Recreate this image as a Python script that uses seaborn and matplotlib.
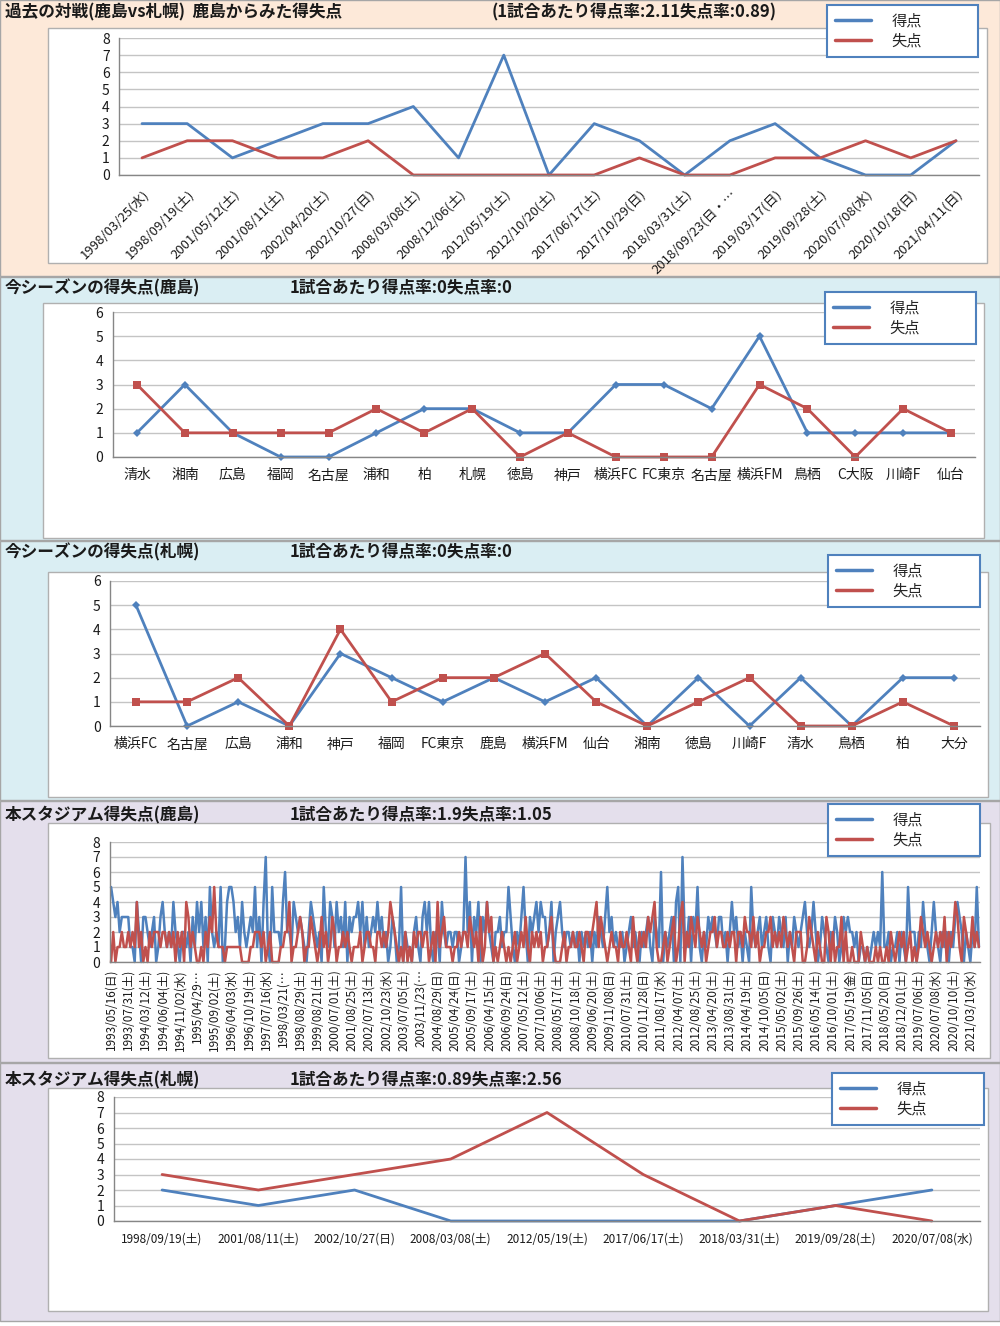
import seaborn as sns
import matplotlib.pyplot as plt
import pandas as pd
import numpy as np
from matplotlib.patches import Rectangle
from matplotlib.lines import Line2D

# ---- data ----
h2h_dates = ['1998/03/25(水)', '1998/09/19(土)', '2001/05/12(土)', '2001/08/11(土)',
             '2002/04/20(土)', '2002/10/27(日)', '2008/03/08(土)', '2008/12/06(土)',
             '2012/05/19(土)', '2012/10/20(土)', '2017/06/17(土)', '2017/10/29(日)',
             '2018/03/31(土)', '2018/09/23(日・…', '2019/03/17(日)', '2019/09/28(土)',
             '2020/07/08(水)', '2020/10/18(日)', '2021/04/11(日)']
h2h_for = [3, 3, 1, 2, 3, 3, 4, 1, 7, 0, 3, 2, 0, 2, 3, 1, 0, 0, 2]
h2h_against = [1, 2, 2, 1, 1, 2, 0, 0, 0, 0, 0, 1, 0, 0, 1, 1, 2, 1, 2]

kashima_opp = ['清水', '湘南', '広島', '福岡', '名古屋', '浦和', '柏', '札幌', '徳島',
               '神戸', '横浜FC', 'FC東京', '名古屋', '横浜FM', '鳥栖', 'C大阪', '川崎F', '仙台']
kashima_for = [1, 3, 1, 0, 0, 1, 2, 2, 1, 1, 3, 3, 2, 5, 1, 1, 1, 1]
kashima_against = [3, 1, 1, 1, 1, 2, 1, 2, 0, 1, 0, 0, 0, 3, 2, 0, 2, 1]

sapporo_opp = ['横浜FC', '名古屋', '広島', '浦和', '神戸', '福岡', 'FC東京', '鹿島', '横浜FM',
               '仙台', '湘南', '徳島', '川崎F', '清水', '鳥栖', '柏', '大分']
sapporo_for = [5, 0, 1, 0, 3, 2, 1, 2, 1, 2, 0, 2, 0, 2, 0, 2, 2]
sapporo_against = [1, 1, 2, 0, 4, 1, 2, 2, 3, 1, 0, 1, 2, 0, 0, 1, 0]

stadium_k_labels = ['1993/05/16(日)', '1993/07/31(土)', '1994/03/12(土)', '1994/06/04(土)',
                    '1994/11/02(水)', '1995/04/29…', '1995/09/02(土)', '1996/04/03(水)',
                    '1996/10/19(土)', '1997/07/16(水)', '1998/03/21(…', '1998/08/29(土)',
                    '1999/08/21(土)', '2000/07/01(土)', '2001/08/25(土)', '2002/07/13(土)',
                    '2002/10/23(水)', '2003/07/05(土)', '2003/11/23(…', '2004/08/29(日)',
                    '2005/04/24(日)', '2005/09/17(土)', '2006/04/15(土)', '2006/09/24(日)',
                    '2007/05/12(土)', '2007/10/06(土)', '2008/05/17(土)', '2008/10/18(土)',
                    '2009/06/20(土)', '2009/11/08(日)', '2010/07/31(土)', '2010/11/28(日)',
                    '2011/08/17(水)', '2012/04/07(土)', '2012/08/25(土)', '2013/04/20(土)',
                    '2013/08/31(土)', '2014/04/19(土)', '2014/10/05(日)', '2015/05/02(土)',
                    '2015/09/26(土)', '2016/05/14(土)', '2016/10/01(土)', '2017/05/19(金)',
                    '2017/11/05(日)', '2018/05/20(日)', '2018/12/01(土)', '2019/07/06(土)',
                    '2020/07/08(水)', '2020/10/10(土)', '2021/03/10(水)']
stadium_k_for = [
    5, 4, 3, 4, 2, 3, 3, 3,  3, 1, 1, 0, 4, 2, 0, 3,  3, 2, 1, 2, 3, 0, 1, 3,
    4, 2, 1, 2, 1, 4, 2, 1,  0, 2, 2, 1, 2, 0, 3, 1,  4, 2, 4, 1, 3, 0, 5, 2,
    1, 2, 1, 5, 0, 1, 4, 5,  5, 4, 2, 3, 1, 4, 2, 1,  2, 3, 2, 5, 1, 3, 0, 4,
    7, 1, 0, 5, 2, 2, 2, 1,  4, 6, 2, 2, 1, 4, 3, 2,  3, 2, 1, 0, 2, 4, 3, 2,
    1, 2, 0, 5, 2, 1, 4, 3,  1, 4, 2, 3, 1, 4, 0, 3,  2, 3, 3, 4, 2, 4, 1, 3,
    1, 2, 3, 2, 4, 2, 3, 1,  2, 0, 1, 3, 2, 0, 1, 5,  0, 2, 1, 1, 0, 2, 3, 1,
    0, 3, 4, 2, 4, 1, 0, 2,  2, 0, 4, 2, 1, 2, 2, 1,  2, 2, 0, 1, 2, 7, 2, 4,
    0, 3, 2, 4, 0, 3, 2, 4,  2, 1, 0, 2, 2, 3, 1, 2,  2, 5, 3, 1, 0, 2, 1, 3,
    5, 2, 0, 3, 2, 3, 4, 2,  4, 3, 3, 1, 2, 4, 0, 2,  3, 4, 2, 1, 2, 2, 1, 2,
    1, 2, 0, 2, 1, 2, 1, 2,  0, 2, 1, 3, 2, 1, 3, 5,  2, 3, 1, 2, 1, 1, 2, 0,
    1, 2, 3, 1, 2, 1, 0, 2,  1, 2, 3, 1, 0, 3, 2, 1,  6, 0, 2, 1, 2, 3, 0, 4,
    5, 0, 7, 2, 1, 3, 0, 3,  2, 5, 1, 0, 2, 1, 3, 2,  3, 2, 1, 3, 3, 1, 2, 0,
    2, 4, 2, 3, 1, 2, 0, 2,  1, 0, 5, 2, 1, 2, 3, 1,  2, 3, 1, 0, 3, 2, 1, 3,
    2, 1, 3, 0, 2, 1, 3, 2,  1, 2, 3, 4, 2, 1, 2, 4,  2, 0, 1, 3, 2, 1, 0, 2,
    1, 3, 2, 0, 1, 3, 2, 3,  2, 2, 1, 2, 0, 1, 1, 0,  1, 0, 1, 2, 1, 2, 1, 6,
    1, 1, 2, 0, 1, 1, 2, 0,  2, 1, 0, 5, 2, 2, 2, 0,  2, 1, 4, 2, 1, 0, 2, 4,
    2, 1, 0, 2, 1, 2, 0, 2,  1, 3, 4, 3, 2, 0, 2, 1,  0, 2, 1, 5, 1]
stadium_k_against = [
    0, 2, 0, 1, 1, 2, 1, 1,  2, 1, 2, 1, 4, 1, 2, 0,  1, 0, 2, 1, 2, 2, 2, 1,
    2, 2, 1, 2, 1, 2, 0, 2,  1, 2, 0, 4, 3, 1, 2, 1,  0, 0, 1, 0, 2, 1, 3, 2,
    5, 2, 1, 1, 1, 0, 1, 1,  1, 1, 1, 1, 1, 0, 0, 0,  0, 1, 1, 2, 2, 2, 1, 2,
    0, 1, 2, 0, 0, 0, 0, 1,  1, 2, 2, 4, 0, 1, 1, 2,  3, 2, 0, 1, 1, 3, 2, 1,
    0, 1, 3, 1, 2, 0, 1, 3,  2, 0, 1, 1, 2, 1, 2, 1,  0, 1, 1, 1, 2, 0, 1, 2,
    2, 1, 1, 0, 2, 2, 1, 2,  1, 2, 4, 3, 2, 1, 0, 1,  0, 2, 0, 1, 0, 2, 1, 2,
    2, 1, 2, 2, 0, 1, 2, 0,  4, 1, 2, 3, 1, 1, 1, 0,  1, 1, 2, 1, 2, 2, 1, 3,
    2, 1, 2, 0, 3, 0, 1, 4,  2, 3, 0, 1, 0, 1, 2, 1,  0, 1, 0, 1, 2, 0, 1, 2,
    1, 3, 1, 0, 2, 1, 2, 1,  2, 0, 1, 1, 2, 3, 1, 0,  0, 0, 1, 2, 0, 1, 1, 2,
    1, 1, 2, 1, 0, 2, 2, 1,  2, 3, 4, 1, 3, 2, 1, 0,  1, 2, 1, 1, 0, 2, 1, 1,
    2, 1, 0, 3, 1, 0, 2, 1,  2, 1, 3, 2, 3, 4, 1, 0,  0, 1, 2, 0, 1, 2, 3, 0,
    1, 3, 4, 0, 2, 1, 3, 2,  1, 3, 2, 1, 2, 0, 1, 2,  2, 3, 1, 2, 2, 1, 1, 2,
    1, 2, 2, 0, 2, 2, 1, 3,  2, 2, 1, 3, 1, 2, 0, 1,  1, 2, 2, 3, 1, 2, 1, 2,
    1, 3, 2, 1, 2, 1, 0, 2,  2, 2, 0, 0, 1, 3, 2, 1,  0, 2, 1, 0, 0, 3, 2, 0,
    2, 0, 1, 1, 3, 0, 2, 0,  0, 1, 0, 0, 0, 2, 1, 0,  1, 0, 0, 0, 1, 0, 1, 0,
    0, 1, 0, 2, 1, 0, 1, 2,  1, 2, 0, 1, 2, 0, 1, 0,  1, 3, 2, 1, 2, 1, 0, 1,
    2, 1, 2, 1, 3, 0, 2, 1,  2, 4, 3, 1, 0, 3, 2, 1,  1, 3, 1, 2, 1]

stadium_s_dates = ['1998/09/19(土)', '2001/08/11(土)', '2002/10/27(日)', '2008/03/08(土)',
                   '2012/05/19(土)', '2017/06/17(土)', '2018/03/31(土)', '2019/09/28(土)',
                   '2020/07/08(水)']
stadium_s_for = [2, 1, 2, 0, 0, 0, 0, 1, 2]
stadium_s_against = [3, 2, 3, 4, 7, 3, 0, 1, 0]

# ---- style ----
sns.set_style('white')
plt.rcParams['font.family'] = ['Noto Sans CJK JP', 'DejaVu Sans']

BLUE = '#4F81BD'
RED = '#C0504D'
AXIS = '#868686'
GRID = '#C4C4C4'
TXT = '#1a1a1a'
W, H = 1000, 1326

fig = plt.figure(figsize=(10, 13.26), dpi=100)


def px_rect(x0, y0, x1, y1, fc, ec, lw=1.0, z=-2):
    fig.patches.append(Rectangle((x0 / W, 1 - y1 / H), (x1 - x0) / W, (y1 - y0) / H,
                                 transform=fig.transFigure, facecolor=fc,
                                 edgecolor=ec, lw=lw, zorder=z))


def title(x, y, s):
    fig.text(x / W, 1 - y / H, s, fontsize=12, fontweight='bold', color=TXT,
             va='center', ha='left')


def panel(area, labels, goals, conceded, ymax, legend_box, markers=False,
          label_pos=None, rot=0, fs=9.5, pad=6):
    l, t, r, b = area
    ax = fig.add_axes([l / W, 1 - b / H, (r - l) / W, (b - t) / H])
    ax.set_facecolor('none')
    n = len(goals)
    df = pd.DataFrame({'pos': np.arange(n), 'goals': goals, 'conceded': conceded})
    kw_for = dict(marker='D', markersize=4, markeredgewidth=0) if markers else {}
    kw_ag = dict(marker='s', markersize=6, markeredgewidth=0) if markers else {}
    lw = 1.8 if n > 100 else 2.0
    sns.lineplot(data=df, x='pos', y='goals', color=BLUE, lw=lw, ax=ax, legend=False, **kw_for)
    sns.lineplot(data=df, x='pos', y='conceded', color=RED, lw=lw, ax=ax, legend=False, **kw_ag)
    for ln in ax.lines:
        ln.set_clip_on(False)
    ax.set_xlim(-0.5, n - 0.5)
    ax.set_ylim(0, ymax)
    ax.set_yticks(range(ymax + 1))
    ax.yaxis.grid(True, color=GRID, lw=1)
    ax.xaxis.grid(False)
    ax.set_axisbelow(True)
    if label_pos is None:
        label_pos = np.arange(n)
    ax.set_xticks(label_pos)
    if rot == 45:
        ax.set_xticklabels(labels, rotation=45, ha='right', va='top',
                           rotation_mode='anchor', fontsize=fs, color=TXT)
    elif rot == 90:
        ax.set_xticklabels(labels, rotation=90, fontsize=fs, color=TXT)
    else:
        ax.set_xticklabels(labels, fontsize=fs, color=TXT)
    ax.set_xticks(np.arange(-0.5, n), minor=True)
    ax.tick_params(axis='x', which='major', length=0, pad=pad)
    ax.tick_params(axis='x', which='minor', length=5, color=AXIS, width=0.8)
    ax.tick_params(axis='y', length=4, color=AXIS, labelsize=10, labelcolor=TXT, pad=3)
    ax.set_xlabel('')
    ax.set_ylabel('')
    for s in ['top', 'right']:
        ax.spines[s].set_visible(False)
    for s in ['left', 'bottom']:
        ax.spines[s].set_color(AXIS)
        ax.spines[s].set_linewidth(1)
    handles = [Line2D([], [], color=BLUE, lw=2.5), Line2D([], [], color=RED, lw=2.5)]
    lx0, ly0, lx1, ly1 = legend_box
    leg = ax.legend(handles, ['得点', '失点'], loc='upper left',
                    bbox_to_anchor=(lx0 / W, 1 - ly1 / H, (lx1 - lx0) / W, (ly1 - ly0) / H),
                    bbox_transform=fig.transFigure, mode='expand', fancybox=False,
                    framealpha=1, edgecolor=BLUE, fontsize=11, handlelength=2.4,
                    handletextpad=1.3, borderpad=0.5, labelspacing=0.2,
                    borderaxespad=0)
    leg.get_frame().set_linewidth(1.5)
    return ax


# ---- background bands ----
px_rect(0, 0, 1000, 276, '#FDE9D9', '#A6A6A6')
px_rect(0, 277, 1000, 540, '#DAEEF3', '#A6A6A6')
px_rect(0, 541, 1000, 800, '#DAEEF3', '#A6A6A6')
px_rect(0, 801, 1000, 1062, '#E4DFEC', '#A6A6A6')
px_rect(0, 1063, 1000, 1321, '#E4DFEC', '#A6A6A6')

# white chart boxes
px_rect(48, 28, 987, 263, 'white', '#B0B0B0', z=-1)
px_rect(43, 303, 984, 538, 'white', '#B0B0B0', z=-1)
px_rect(48, 572, 988, 797, 'white', '#B0B0B0', z=-1)
px_rect(48, 823, 990, 1058, 'white', '#B0B0B0', z=-1)
px_rect(48, 1088, 988, 1311, 'white', '#B0B0B0', z=-1)

# ---- titles ----
title(5, 12, '過去の対戦(鹿島vs札幌)  鹿島からみた得失点')
title(492, 12, '(1試合あたり得点率:2.11失点率:0.89)')
title(5, 288, '今シーズンの得失点(鹿島)')
title(290, 288, '1試合あたり得点率:0失点率:0')
title(5, 552, '今シーズンの得失点(札幌)')
title(290, 552, '1試合あたり得点率:0失点率:0')
title(5, 815, '本スタジアム得失点(鹿島)')
title(290, 815, '1試合あたり得点率:1.9失点率:1.05')
title(5, 1080, '本スタジアム得失点(札幌)')
title(290, 1080, '1試合あたり得点率:0.89失点率:2.56')

# ---- charts ----
panel((119.4, 38, 978.6, 175), h2h_dates, h2h_for, h2h_against, 8,
      (827, 5, 978, 57), rot=45, fs=9.5, pad=9)
panel((113, 312, 975, 457), kashima_opp, kashima_for, kashima_against, 6,
      (825, 292, 976, 343), markers=True, fs=10, pad=8)
panel((110.4, 581, 979.6, 726), sapporo_opp, sapporo_for, sapporo_against, 6,
      (828, 555, 980, 607), markers=True, fs=10, pad=8)
panel((110, 842, 980, 962), stadium_k_labels, stadium_k_for, stadium_k_against, 8,
      (828, 804, 980, 857), label_pos=np.arange(0, len(stadium_k_for), 8),
      rot=90, fs=8.5, pad=5)
panel((114, 1097, 980, 1221), stadium_s_dates, stadium_s_for, stadium_s_against, 8,
      (832, 1073, 984, 1125), fs=8.5, pad=8)

plt.savefig('out.png', dpi=100, facecolor='white')
plt.close()
